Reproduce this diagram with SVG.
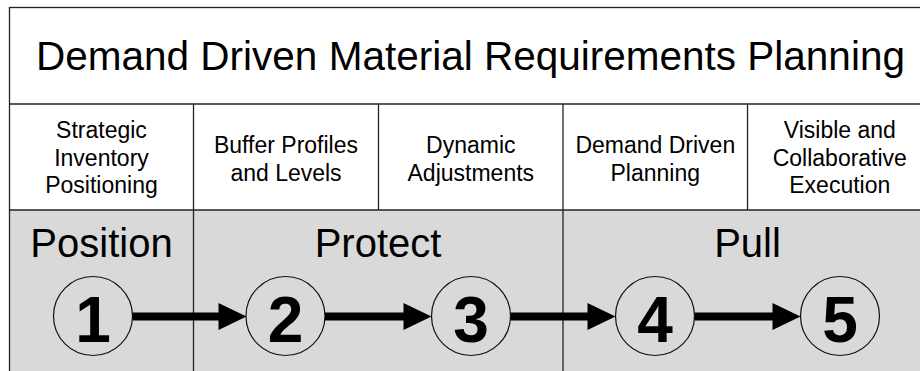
<svg xmlns="http://www.w3.org/2000/svg" width="920" height="371" viewBox="0 0 920 371">
<style>
.ln{stroke:#222;stroke-width:1.3;fill:none}
.t{font-family:"Liberation Sans",Arial,sans-serif;fill:#000;text-anchor:middle}
.title{font-size:40.5px}
.sub{font-size:23px}
.ph{font-size:40px}
.num{font-size:64px;font-weight:bold}
.c{fill:none;stroke:#111;stroke-width:1.2}
.ar{stroke:#000;stroke-width:8;fill:none}
.hd{fill:#000}
</style>
<defs>
<path id="ah" d="M-28,-13.5 L0,0 L-28,13.5 Z"/>
</defs>
<rect x="0" y="0" width="920" height="371" fill="#fff"/>
<g id="bands">
<rect x="9.5" y="210" width="930" height="170" fill="#d9d9d9"/>
<rect x="9.5" y="7.5" width="930" height="400" class="ln"/>
<line x1="9.5" y1="104" x2="940" y2="104" class="ln"/>
<line x1="9.5" y1="210" x2="940" y2="210" class="ln"/>
<line x1="193.5" y1="104" x2="193.5" y2="371" class="ln"/>
<line x1="378.5" y1="104" x2="378.5" y2="210" class="ln"/>
<line x1="563" y1="104" x2="563" y2="371" class="ln"/>
<line x1="747.5" y1="104" x2="747.5" y2="210" class="ln"/>
</g>
<g id="title"><text class="t title" x="470.5" y="70">Demand Driven Material Requirements Planning</text></g>
<g id="component1"><text class="t sub" x="101.5" y="138.3">Strategic</text><text class="t sub" x="101.5" y="165.8">Inventory</text><text class="t sub" x="101.5" y="193.3">Positioning</text></g>
<g id="component2"><text class="t sub" x="286" y="153.3">Buffer Profiles</text><text class="t sub" x="286" y="181.3">and Levels</text></g>
<g id="component3"><text class="t sub" x="470.8" y="153.3">Dynamic</text><text class="t sub" x="470.8" y="181.3">Adjustments</text></g>
<g id="component4"><text class="t sub" x="655.3" y="153.3">Demand Driven</text><text class="t sub" x="655.3" y="181.3">Planning</text></g>
<g id="component5"><text class="t sub" x="839.8" y="138.3">Visible and</text><text class="t sub" x="839.8" y="165.8">Collaborative</text><text class="t sub" x="839.8" y="193.3">Execution</text></g>
<g id="phase-position"><text class="t ph" x="101.5" y="257">Position</text></g>
<g id="phase-protect"><text class="t ph" x="378" y="257">Protect</text></g>
<g id="phase-pull"><text class="t ph" x="747.5" y="257">Pull</text></g>
<g id="step1"><circle class="c" cx="93" cy="316" r="39.5"/><text class="t num" x="93" y="342">1</text></g>
<g id="step2"><circle class="c" cx="285.5" cy="316" r="39.5"/><text class="t num" x="285.5" y="342">2</text></g>
<g id="step3"><circle class="c" cx="471" cy="316" r="39.5"/><text class="t num" x="471" y="342">3</text></g>
<g id="step4"><circle class="c" cx="655" cy="316" r="39.5"/><text class="t num" x="655" y="342">4</text></g>
<g id="step5"><circle class="c" cx="840" cy="316" r="39.5"/><text class="t num" x="840" y="342">5</text></g>
<g id="connectors">
<line class="ar" x1="132.5" y1="316.5" x2="221" y2="316.5"/><use href="#ah" class="hd" x="246.5" y="316.5"/>
<line class="ar" x1="325" y1="316.5" x2="406" y2="316.5"/><use href="#ah" class="hd" x="431.5" y="316.5"/>
<line class="ar" x1="510.5" y1="316.5" x2="590" y2="316.5"/><use href="#ah" class="hd" x="615.5" y="316.5"/>
<line class="ar" x1="694.5" y1="316.5" x2="775" y2="316.5"/><use href="#ah" class="hd" x="800.5" y="316.5"/>
</g>
</svg>
